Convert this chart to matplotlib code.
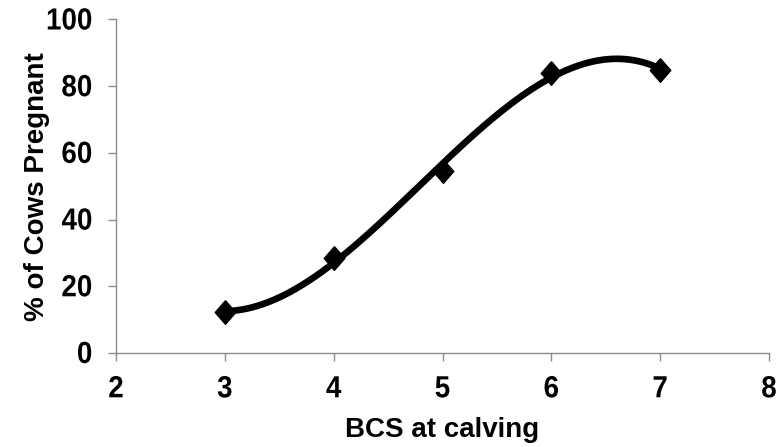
import numpy as np
import matplotlib.pyplot as plt
from matplotlib.patheffects import AbstractPathEffect
from matplotlib.transforms import Affine2D

plt.rcParams['font.family'] = ['Liberation Sans', 'DejaVu Sans']
plt.rcParams['font.weight'] = 'bold'

# Data
bcs = [3, 4, 5, 6, 7]
pct_pregnant = [12.2, 28.4, 54.7, 84.0, 84.9]
x_ticks = [2, 3, 4, 5, 6, 7, 8]
y_ticks = [0, 20, 40, 60, 80, 100]


class VStretch(AbstractPathEffect):
    # the reference's glyphs look a bit taller than wide
    def __init__(self, sy):
        super().__init__()
        self.sy = sy

    def draw_path(self, renderer, gc, tpath, affine, rgbFace=None):
        renderer.draw_path(gc, tpath, Affine2D().scale(1, self.sy) + affine, rgbFace)


fig = plt.figure(figsize=(7.77, 4.47), dpi=100)
ax = fig.add_axes([0.1493, 0.2103, 0.8404, 0.7461])

# 3rd order polynomial trendline over the data range (as in Excel)
coef = np.polyfit(bcs, pct_pregnant, 3)
xs = np.linspace(min(bcs), max(bcs), 200)
ax.plot(xs, np.polyval(coef, xs), color='black', lw=4.8,
        solid_capstyle='butt', zorder=2)

# slightly tall diamond marker
diamond = [(0, 1), (0.87, 0), (0, -1), (-0.87, 0), (0, 1)]
ax.plot(bcs, pct_pregnant, linestyle='none', marker=diamond, markersize=17,
        color='black', zorder=3)

ax.set_xlim(2, 8)
ax.set_ylim(0, 100)
ax.set_xticks(x_ticks)
ax.set_yticks(y_ticks)
for s in ['top', 'right']:
    ax.spines[s].set_visible(False)
for s in ['left', 'bottom']:
    ax.spines[s].set_color('#8c8c8c')
    ax.spines[s].set_linewidth(1.0)
ax.tick_params(axis='both', colors='#8c8c8c', length=6, width=1.0,
               labelsize=20, labelcolor='black')
ax.tick_params(axis='y', pad=11)
ax.tick_params(axis='x', pad=11.5)
ax.set_xlabel('BCS at calving', fontsize=20, fontweight='bold', labelpad=10)
ax.set_ylabel('% of Cows Pregnant', fontsize=20, fontweight='bold', labelpad=-3)
for lbl in ax.get_xticklabels() + ax.get_yticklabels():
    lbl.set_fontweight('bold')
    lbl.set_path_effects([VStretch(1.1)])

fig.savefig('out.png', dpi=100)
